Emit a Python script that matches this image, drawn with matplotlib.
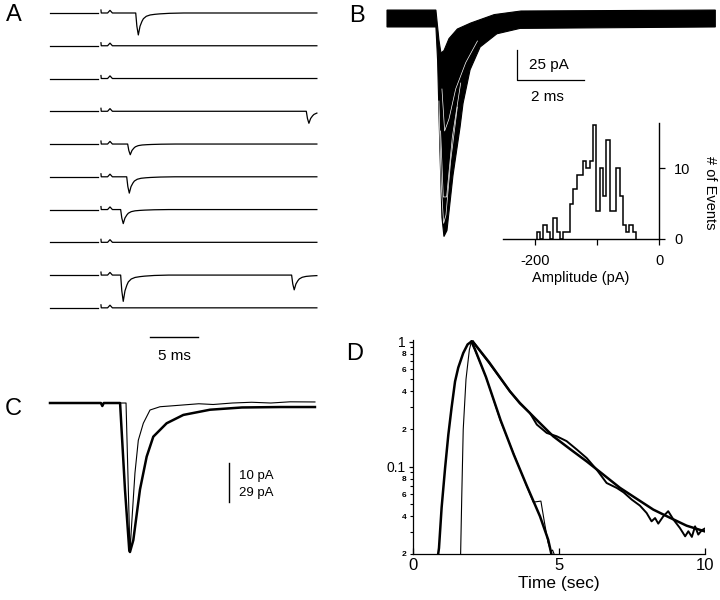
import numpy as np
import matplotlib
matplotlib.use("Agg")
import matplotlib.pyplot as plt

plt.rcParams["font.family"] = ["Liberation Sans", "DejaVu Sans"]

# ---- A: ten consecutive sweeps (time in ms, current in pA) ----
a_spacing = 27.3
a_left_t = [0.0, 5.03]
a_end_t = 27.8
a_onsets = [[8.93], [], [], [26.7], [8.09], [7.99], [7.36], [], [7.36, 25.17], []]
a_amps = [[18.3], [], [], [10.0], [8.9], [13.6], [11.7], [], [21.9, 12.3], []]
# stimulus artifact and mEPSC shape read from the sweeps
stim_t = [5.31, 5.34, 6.0, 6.25, 6.5]
stim_v = [2.5, 0.0, 0.0, 2.2, 0.0]
epsc_t = [0, 0.12, 0.27, 0.45, 0.65, 0.8, 1.1, 1.5, 2.0, 2.5, 3.5, 5.0]
epsc_f = [0, -0.6, -1.0, -0.6, -0.38, -0.26, -0.15, -0.09, -0.06, -0.04, -0.015, 0]

# ---- B: overlay of events (envelope), ms / pA ----
b_up_t = [0, 1.46, 1.55, 1.61, 1.70, 1.85, 2.1, 2.5, 3.2, 4.0, 9.8]
b_up_v = [5.8, 5.8, -19, -30, -28, -18, -10, -5, 2, 5, 5.8]
b_lo_t = [0, 1.46, 1.51, 1.58, 1.64, 1.70, 1.79, 1.97, 2.18, 2.27, 2.48, 2.78, 3.28, 3.97, 9.8]
b_lo_v = [-8.3, -8.3, -36, -111, -167, -183, -178, -132, -92, -72, -44, -25, -14, -9.5, -8.3]
b_white = [
    ([1.55, 1.62, 1.69, 1.76, 1.9, 2.1], [-70, -140, -172, -165, -120, -75]),
    ([1.6, 1.68, 1.78, 1.95, 2.2], [-95, -150, -150, -100, -55]),
    ([1.64, 1.72, 1.85, 2.05, 2.35, 2.7], [-60, -95, -85, -60, -38, -20]),
]

# amplitude histogram
amp_edges = np.linspace(-197, -37, 31)
amp_counts = [1, 0, 2, 1, 0, 3, 1, 0, 1, 1, 5, 7, 9, 9, 11, 10, 11, 16,
              4, 10, 6, 14, 4, 4, 10, 6, 2, 1, 2, 1]

# ---- C: averaged events, normalised to peak ----
c_thick_t = [0, 5.3, 5.45, 5.6, 7.3, 7.81, 8.26, 8.33, 8.68, 9.375, 10.07, 10.76,
             12.15, 13.89, 16.67, 20, 24, 27.6]
c_thick_f = [0, 0, -0.02, 0, 0, -0.58, -0.99, -1.0, -0.92, -0.58, -0.36, -0.226,
             -0.136, -0.08, -0.045, -0.03, -0.027, -0.027]
c_thin_t = [0, 5.3, 5.45, 5.6, 7.92, 8.16, 8.33, 8.51, 8.85, 9.2, 9.72, 10.42, 11.46,
            12.5, 13.9, 15.5, 17, 19, 21, 23, 25, 27.6]
c_thin_f = [0, 0, -0.02, 0, 0, -0.58, -1.0, -0.81, -0.47, -0.25, -0.136, -0.047, -0.025,
            -0.02, -0.013, -0.005, -0.01, 0.0, 0.005, 0.0, 0.008, 0.007]

# ---- D: normalised time courses (sec) on log scale ----
d_rise_thick_t = [0.855, 0.89, 0.98, 1.10, 1.21, 1.32, 1.44, 1.55, 1.72, 1.87, 2.0]
d_rise_thick_v = [0.0195, 0.0223, 0.047, 0.098, 0.18, 0.295, 0.48, 0.62, 0.81, 0.95, 1.0]
d_rise_thin_t = [1.63, 1.67, 1.72, 1.815, 1.93, 2.0]
d_rise_thin_v = [0.0195, 0.058, 0.198, 0.50, 0.86, 1.0]
d_fast_fit_t = [2.0, 2.12, 2.5, 3.0, 3.45, 3.9, 4.35, 4.63, 4.75]
d_fast_fit_v = [1.0, 0.87, 0.52, 0.235, 0.125, 0.07, 0.04, 0.026, 0.0195]
d_fast_data_t = [2.0, 2.5, 3.0, 3.45, 3.9, 4.12, 4.38, 4.5, 4.62, 4.72, 4.78, 4.85]
d_fast_data_v = [1.0, 0.52, 0.23, 0.127, 0.069, 0.052, 0.053, 0.036, 0.025, 0.021, 0.0215, 0.0195]
d_slow_fit_t = [2.05, 2.6, 3.32, 3.66, 4.2, 4.8, 5.4, 5.95, 6.5, 7.09, 7.6, 8.23, 8.8, 9.37, 10.0]
d_slow_fit_v = [1.0, 0.687, 0.40, 0.323, 0.241, 0.175, 0.137, 0.110, 0.087, 0.0676, 0.0565,
                0.0453, 0.039, 0.0337, 0.0303]
d_slow_data_t = [2.05, 2.6, 3.32, 3.66, 4.0, 4.24, 4.58, 4.92, 5.26, 5.61, 5.95, 6.29, 6.63,
                 6.98, 7.21, 7.49, 7.77, 8.0, 8.17, 8.29, 8.40, 8.57, 8.74, 8.92, 9.14, 9.32,
                 9.43, 9.55, 9.66, 9.77, 9.89, 10.0]
d_slow_data_v = [1.0, 0.68, 0.40, 0.32, 0.269, 0.217, 0.186, 0.175, 0.160, 0.137, 0.117, 0.0946,
                 0.074, 0.0675, 0.0623, 0.0545, 0.0488, 0.0426, 0.0365, 0.0388, 0.035, 0.040,
                 0.044, 0.0377, 0.0323, 0.0277, 0.0304, 0.0274, 0.0333, 0.0286, 0.031, 0.032]

W, H = 720, 600
fig = plt.figure(figsize=(W / 100, H / 100), dpi=100)


def px_axes(x0, y0, x1, y1):
    # axes placed by pixel box (top-left origin)
    return fig.add_axes([x0 / W, 1 - y1 / H, (x1 - x0) / W, (y1 - y0) / H])


# panel A
ax_a = px_axes(30, 0, 340, 325)
ax_a.set_xlim(-2.083, 30.21)
ax_a.set_ylim(-260, 10.83)
ax_a.set_axis_off()
for k in range(10):
    off = -k * a_spacing
    ax_a.plot(a_left_t, [off, off], color="k", lw=0.9)
    tt = list(stim_t) + [a_end_t]
    for on in a_onsets[k]:
        tt += [on + e for e in epsc_t]
    tt = np.array(sorted(set(tt)))
    tt = tt[tt <= a_end_t]
    vv = np.interp(tt, stim_t, stim_v, left=0, right=0)
    for on, amp in zip(a_onsets[k], a_amps[k]):
        vv = vv + amp * np.interp(tt, np.array(epsc_t) + on, epsc_f, left=0, right=0)
    ax_a.plot(tt, vv + off, color="k", lw=0.9)

# panel B traces
ax_b = px_axes(380, 0, 720, 250)
ax_b.set_xlim(-0.209, 9.94)
ax_b.set_ylim(-194.2, 14.17)
ax_b.set_axis_off()
ax_b.fill(b_up_t + b_lo_t[::-1], b_up_v + b_lo_v[::-1], color="k", lw=0.8)
for wt, wv in b_white:
    ax_b.plot(wt, wv, color="white", lw=0.5)
ax_b.plot([3.88, 3.88, 5.88], [-27.5, -52.5, -52.5], color="k", lw=0.9)
ax_b.text(4.24, -40, "25 pA", fontsize=11, va="center", ha="left")
ax_b.text(4.78, -67, "2 ms", fontsize=11, va="center", ha="center")

# panel B histogram
ax_h = px_axes(503, 123, 659, 239)
ax_h.patch.set_alpha(0)
ax_h.stairs(amp_counts, amp_edges, color="k", lw=1.1, baseline=0)
ax_h.set_xlim(-251.6, 0)
ax_h.set_ylim(0, 16.34)
for s in ["left", "top"]:
    ax_h.spines[s].set_visible(False)
for s in ["right", "bottom"]:
    ax_h.spines[s].set_linewidth(1.0)
ax_h.yaxis.tick_right()
ax_h.set_yticks([0, 10])
ax_h.set_yticklabels(["0", "10"])
ax_h.set_xticks([-200, -100, 0])
ax_h.set_xticklabels(["-200", "", "0"])
ax_h.tick_params(direction="out", length=4, width=0.9, labelsize=10.5, pad=7)
ax_h.set_xlabel("Amplitude (pA)", fontsize=10.5, labelpad=2)
ax_h.text(1.33, 0.4, "# of Events", transform=ax_h.transAxes, rotation=270,
          fontsize=10.5, ha="center", va="center")

# panel C
ax_c = px_axes(30, 325, 340, 600)
ax_c.set_xlim(-2.083, 30.21)
ax_c.set_ylim(-1.322, 0.5235)
ax_c.set_axis_off()
ax_c.plot(c_thin_t, c_thin_f, color="k", lw=0.8)
ax_c.plot(c_thick_t, c_thick_f, color="k", lw=1.8)
ax_c.plot([10.4, 15.4], [0.443, 0.443], color="k", lw=1.0)
ax_c.text(13.0, 0.315, "5 ms", fontsize=11, ha="center", va="center")
ax_c.plot([18.65, 18.65], [-0.403, -0.664], color="k", lw=1.0)
ax_c.text(19.69, -0.49, "10 pA", fontsize=9.5, ha="left", va="center")
ax_c.text(19.69, -0.604, "29 pA", fontsize=9.5, ha="left", va="center")

# panel D
ax_d = px_axes(413, 339.5, 705, 554)
ax_d.plot(d_rise_thick_t, d_rise_thick_v, color="k", lw=1.8)
ax_d.plot(d_rise_thin_t, d_rise_thin_v, color="k", lw=0.8)
ax_d.plot(d_fast_data_t, d_fast_data_v, color="k", lw=0.8)
ax_d.plot(d_fast_fit_t, d_fast_fit_v, color="k", lw=1.8)
ax_d.plot(d_slow_data_t, d_slow_data_v, color="k", lw=1.4)
ax_d.plot(d_slow_fit_t, d_slow_fit_v, color="k", lw=1.8)
ax_d.set_yscale("log")
ax_d.set_xlim(0, 10)
ax_d.set_ylim(0.02, 1.04)
for s in ["right", "top"]:
    ax_d.spines[s].set_visible(False)
for s in ["left", "bottom"]:
    ax_d.spines[s].set_linewidth(0.9)
ax_d.set_xticks([0, 5, 10])
ax_d.set_xticklabels(["0", "5", "10"])
ax_d.tick_params(axis="x", direction="in", length=4, width=0.9, labelsize=12, pad=3)
ax_d.set_yticks([0.1, 1.0])
ax_d.set_yticklabels(["0.1", "1"])
minor_vals = [0.02, 0.03, 0.04, 0.05, 0.06, 0.07, 0.08, 0.09,
              0.2, 0.3, 0.4, 0.5, 0.6, 0.7, 0.8, 0.9]
minor_labs = ["2", "", "4", "", "6", "", "8", "", "2", "", "4", "", "6", "", "8", ""]
ax_d.set_yticks(minor_vals, minor=True)
ax_d.set_yticklabels(minor_labs, minor=True)
ax_d.tick_params(axis="y", which="major", direction="out", length=3, width=0.9,
                 labelsize=10, pad=2)
ax_d.tick_params(axis="y", which="minor", direction="out", length=2.5, width=0.8,
                 labelsize=6, pad=2)
for lbl in ax_d.get_yticklabels(minor=True):
    lbl.set_fontweight("bold")
ax_d.set_xlabel("Time (sec)", fontsize=12.5, labelpad=2)

# panel letters
for letter, (x, y) in zip("ABCD", [(14, 15), (357, 16), (13, 409), (355, 354)]):
    fig.text(x / W, 1 - y / H, letter, fontsize=17, ha="center", va="center")

fig.savefig("out.png", dpi=100)
